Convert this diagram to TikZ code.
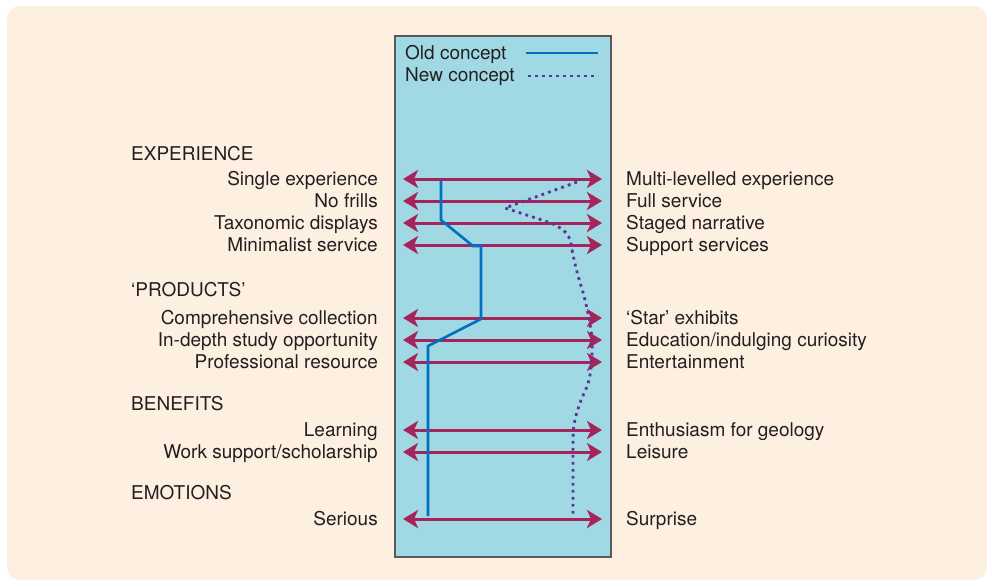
\documentclass[tikz,border=0pt]{standalone}
\usepackage{fontspec}
\setmainfont{TeX Gyre Heros}
\usepackage{xcolor}
\usetikzlibrary{arrows.meta}
\definecolor{museumCream}{RGB}{253, 240, 225}
\definecolor{museumSky}{RGB}{160, 217, 228}
\definecolor{museumRose}{RGB}{166, 36, 92}
\definecolor{museumBlue}{RGB}{0, 112, 192}
\definecolor{museumPurple}{RGB}{88, 56, 150}
\definecolor{museumInk}{RGB}{35, 31, 32}

\begin{document}
\begin{tikzpicture}[x=1pt,y=-1pt,
  every node/.style={inner sep=0pt, text=museumInk, font=\fontsize{19}{22}\selectfont,
    text height=15pt, text depth=2pt},
  twoway/.style={museumRose, line width=3pt, {Stealth[length=15pt,width=18pt,inset=4pt]}-{Stealth[length=15pt,width=18pt,inset=4pt]},
    shorten <=25pt, shorten >=24pt},
  oldline/.style={museumBlue, line width=2.6pt},
  newline/.style={museumPurple, line width=2.8pt, dash pattern=on 2.8pt off 4.2pt}]
\useasboundingbox (0,0) rectangle (987,581);
\fill[white] (0,0) rectangle (987,581);
% Background panel and chart box
\fill[museumCream, rounded corners=13pt] (7,6) rectangle (987,580);
\filldraw[fill=museumSky, draw=black!65, line width=1.4pt] (395,36) rectangle (611,557);

% Legend
\node[anchor=west] (oldkey) at (405,53) {Old concept};
\node[anchor=west] (newkey) at (405,75) {New concept};
\coordinate (oldA) at (526,53);
\coordinate (oldB) at (598,53);
\coordinate (newA) at (528,76);
\coordinate (newB) at (598,76);
\draw[oldline] (oldA) -- (oldB);
\draw[newline] (newA) -- (newB);

% Headings
\node[anchor=west] (hexp) at (131,154) {EXPERIENCE};
\node[anchor=west] (hprod) at (131,290) {`PRODUCTS'};
\node[anchor=west] (hben) at (131,404) {BENEFITS};
\node[anchor=west] (hemo) at (131,493) {EMOTIONS};

% Scales with opposite ends
\foreach \i/\y/\lefttext/\righttext in {
  1/179/Single experience/Multi-levelled experience,
  2/201/No frills/Full service,
  3/223/Taxonomic displays/Staged narrative,
  4/245/Minimalist service/Support services,
  5/318/Comprehensive collection/`Star' exhibits,
  6/340/In-depth study opportunity/Education\slash indulging curiosity,
  7/362/Professional resource/Entertainment,
  8/430/Learning/Enthusiasm for geology,
  9/452/Work support\slash scholarship/Leisure,
  10/519/Serious/Surprise}{
  \node[anchor=east] (ls\i) at (378,\y) {\lefttext};
  \node[anchor=west] (rs\i) at (626,\y) {\righttext};
  \draw[twoway] (ls\i.east) -- (rs\i.west);
}

% Old concept profile
\draw[oldline] (441,181) -- (441,220) -- (473,246) -- (481,246) -- (481,319)
  -- (428,346) -- (428,516);

% New concept profile
\draw[newline] (577,182) -- (505,208) -- (545,221)
  .. controls (566,228) and (571,236) .. (572,250);
\draw[newline] plot[smooth, tension=0.6] coordinates {(572,250) (577,272) (585,300) (591,330)
  (592,352) (589,380) (580,403) (574,425) (573,450) (573,516)};
\end{tikzpicture}
\end{document}
